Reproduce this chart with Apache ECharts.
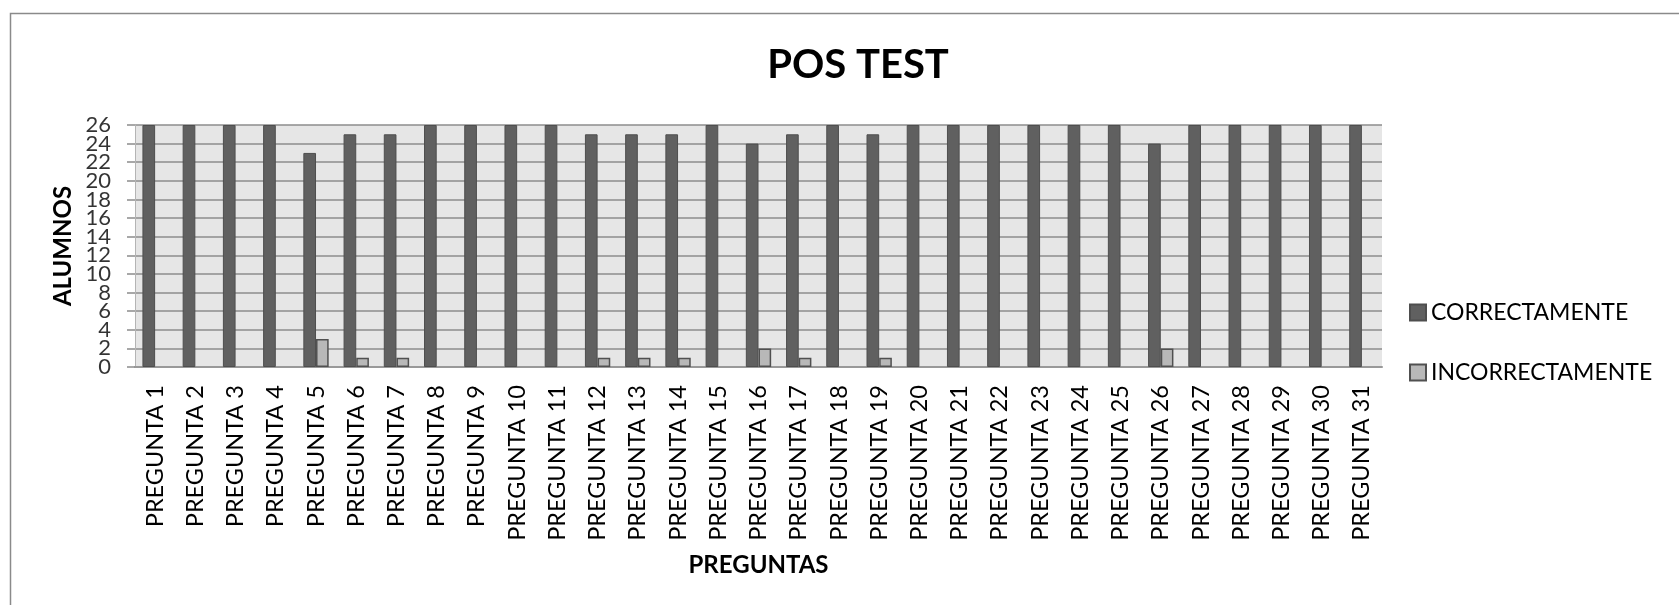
<!DOCTYPE html>
<html>
<head>
<meta charset="utf-8">
<script src="https://cdn.jsdelivr.net/npm/echarts@6/dist/echarts.min.js"></script>
<style>
  html, body { margin: 0; padding: 0; background: #ffffff; }
  #chart { width: 1679px; height: 605px; }
</style>
</head>
<body>
<div id="chart"></div>
<script>
// Preguntas del pos test
const preguntas = [
  'PREGUNTA 1', 'PREGUNTA 2', 'PREGUNTA 3', 'PREGUNTA 4', 'PREGUNTA 5',
  'PREGUNTA 6', 'PREGUNTA 7', 'PREGUNTA 8', 'PREGUNTA 9', 'PREGUNTA 10',
  'PREGUNTA 11', 'PREGUNTA 12', 'PREGUNTA 13', 'PREGUNTA 14', 'PREGUNTA 15',
  'PREGUNTA 16', 'PREGUNTA 17', 'PREGUNTA 18', 'PREGUNTA 19', 'PREGUNTA 20',
  'PREGUNTA 21', 'PREGUNTA 22', 'PREGUNTA 23', 'PREGUNTA 24', 'PREGUNTA 25',
  'PREGUNTA 26', 'PREGUNTA 27', 'PREGUNTA 28', 'PREGUNTA 29', 'PREGUNTA 30',
  'PREGUNTA 31'
];

// Alumnos que respondieron correctamente
const correctamente = [
  26, 26, 26, 26, 23, 25, 25, 26, 26, 26,
  26, 25, 25, 25, 26, 24, 25, 26, 25, 26,
  26, 26, 26, 26, 26, 24, 26, 26, 26, 26,
  26
];

// Alumnos que respondieron incorrectamente
const incorrectamente = [
  0, 0, 0, 0, 3, 1, 1, 0, 0, 0,
  0, 1, 1, 1, 0, 2, 1, 0, 1, 0,
  0, 0, 0, 0, 0, 2, 0, 0, 0, 0,
  0
];

// Marcas del eje de alumnos
const marcasAlumnos = [0, 2, 4, 6, 8, 10, 12, 14, 16, 18, 20, 22, 24, 26];

const FONT = 'Lato, "Liberation Sans", sans-serif';

// Empty bars get no outline so nothing is drawn on the baseline
const sinContorno = v => (v === 0 ? { value: v, itemStyle: { borderWidth: 0 } } : v);

const chart = echarts.init(document.getElementById('chart'), null, { renderer: 'canvas' });

chart.setOption({
  backgroundColor: '#ffffff',
  animation: false,
  title: {
    text: 'POS TEST',
    left: 853,
    top: 40,
    textAlign: 'center',
    textStyle: { fontFamily: FONT, fontSize: 40, fontWeight: 'bold', color: '#000000' }
  },
  graphic: [{
    type: 'rect',
    shape: { x: 10.5, y: 13.5, width: 1700, height: 700 },
    style: { fill: 'none', stroke: '#8a8a8a', lineWidth: 1.5 },
    silent: true,
    z: -10
  }],
  legend: {
    orient: 'vertical',
    left: 1404,
    top: 296,
    itemWidth: 16,
    itemHeight: 16,
    itemGap: 37,
    icon: 'rect',
    textStyle: { fontFamily: FONT, fontSize: 23, color: '#000000', lineHeight: 23 },
    data: ['CORRECTAMENTE', 'INCORRECTAMENTE']
  },
  grid: {
    left: 135,
    right: 297,
    top: 125,
    bottom: 238,
    show: true,
    backgroundColor: '#e6e6e6',
    borderWidth: 0
  },
  xAxis: [
    {
      type: 'category',
      data: preguntas,
      name: 'PREGUNTAS',
      nameLocation: 'middle',
      nameGap: 186,
      nameTextStyle: { fontFamily: FONT, fontSize: 24, fontWeight: 'bold', color: '#000000' },
      axisLine: { show: true, lineStyle: { color: '#999999', width: 2 } },
      axisTick: { show: false },
      axisLabel: {
        rotate: 90,
        margin: 18,
        interval: 0,
        fontFamily: FONT,
        fontSize: 23.5,
        color: '#000000'
      },
      splitLine: { show: false }
    },
    {
      // helper axis that pins the tick-value labels to the left edge of the plot
      type: 'value',
      min: 0,
      max: 1,
      show: false
    }
  ],
  yAxis: {
    type: 'value',
    min: 0,
    max: 26,
    interval: 2,
    name: 'ALUMNOS',
    nameLocation: 'middle',
    nameGap: 60,
    nameTextStyle: { fontFamily: FONT, fontSize: 24, fontWeight: 'bold', color: '#000000' },
    axisLine: { show: true, lineStyle: { color: '#b4b4b4', width: 1 } },
    axisTick: { show: true, length: 8, lineStyle: { color: '#8c8c8c', width: 1.5 } },
    axisLabel: { show: false },
    splitLine: { show: true, lineStyle: { color: '#8c8c8c', width: 1.5 } }
  },
  series: [
    {
      name: 'CORRECTAMENTE',
      type: 'bar',
      data: correctamente,
      barGap: '0%',
      barCategoryGap: '37%',
      itemStyle: { color: '#606060', borderColor: '#4e4e4e', borderWidth: 1 }
    },
    {
      name: 'INCORRECTAMENTE',
      type: 'bar',
      data: incorrectamente.map(sinContorno),
      itemStyle: { color: '#b8b8b8', borderColor: '#505050', borderWidth: 1.5 }
    },
    {
      // tick values of the ALUMNOS axis, stacked tightly like the original layout
      name: 'marcas',
      type: 'scatter',
      xAxisIndex: 1,
      yAxisIndex: 0,
      symbolSize: 0,
      silent: true,
      clip: false,
      data: marcasAlumnos.map(v => [0, v]),
      label: {
        show: true,
        position: 'left',
        distance: 24,
        formatter: p => String(p.value[1]),
        fontFamily: FONT,
        fontSize: 22,
        color: '#000000'
      },
      z: 5
    }
  ]
});
</script>
</body>
</html>
